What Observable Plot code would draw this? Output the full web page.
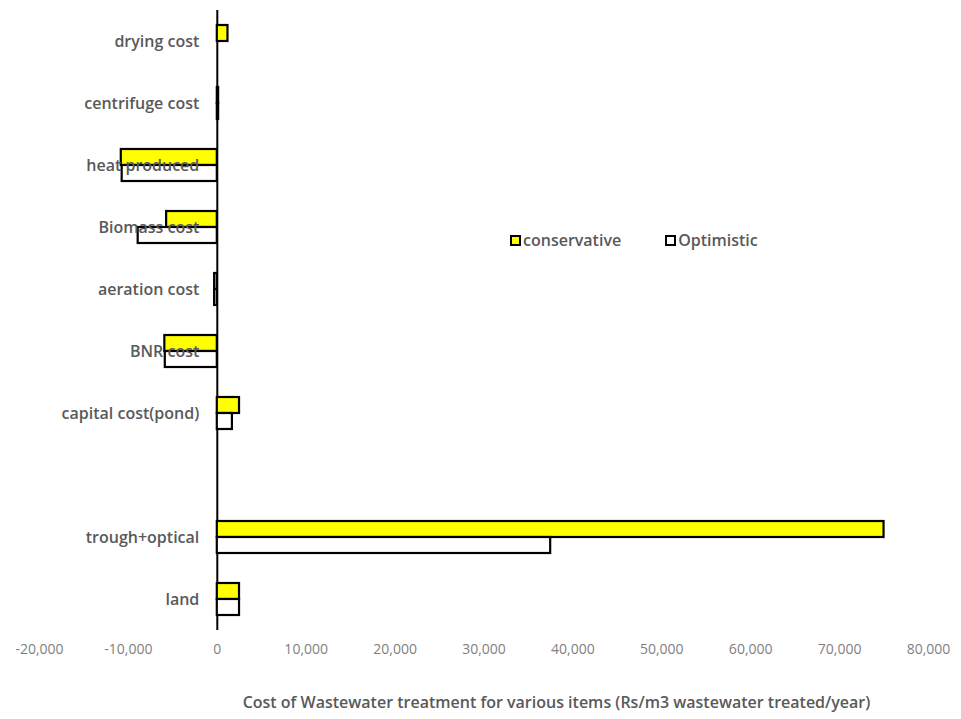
<!DOCTYPE html>
<html>
<head>
<meta charset="utf-8">
<script src="https://cdn.jsdelivr.net/npm/d3@7"></script>
<script src="https://cdn.jsdelivr.net/npm/@observablehq/plot@0.6"></script>
<style>
  body { margin: 0; background: #fff; }
  #wrap { position: relative; width: 961px; height: 719px; font-family: "Open Sans", sans-serif; }
  #legend { position: absolute; left: 510px; top: 229px; display: flex; gap: 44px; font-size: 16px; font-weight: 600; color: #595959; }
  #legend span.item { display: flex; align-items: center; gap: 2px; }
  #legend span.sw { display: inline-block; width: 7px; height: 7px; border: 2px solid #000; }
  #xlabel { position: absolute; left: 152px; right: 0; top: 691px; text-align: center; font-size: 16px; font-weight: 600; color: #595959; }
</style>
</head>
<body>
<div id="wrap">
  <div id="chart"></div>
  <div id="legend"></div>
  <div id="xlabel">Cost of Wastewater treatment for various items (Rs/m3 wastewater treated/year)</div>
</div>
<script>
// Cost items, top to bottom (the blank entry leaves an empty row)
const categories = ["drying cost", "centrifuge cost", "heat produced", "Biomass cost", "aeration cost", "BNR cost", "capital cost(pond)", "", "trough+optical", "land"];
const series = ["conservative", "Optimistic"];
const seriesColors = ["#ffff00", "#ffffff"];
// Rs/m3 wastewater treated/year
const conservative = [1200, 150, -10800, -5700, -300, -5900, 2500, null, 75000, 2500];
const optimistic = [0, 150, -10700, -8900, -300, -5850, 1700, null, 37500, 2500];
const xTicks = [-20000, -10000, 0, 10000, 20000, 30000, 40000, 50000, 60000, 70000, 80000];

const rows = categories.flatMap((c, i) => [
  {category: c, series: series[0], value: conservative[i]},
  {category: c, series: series[1], value: optimistic[i]}
]);

const fmt = v => (v < 0 ? "-" : "") + d3.format(",")(Math.abs(v));

const chart = Plot.plot({
  width: 961,
  height: 670,
  marginTop: 10,
  marginBottom: 40,
  marginLeft: 39,
  marginRight: 33,
  style: {fontFamily: "Open Sans, sans-serif", background: "#fff"},
  x: {domain: [-20000, 80000]},
  fy: {domain: categories, padding: 0, axis: null},
  y: {domain: series, paddingInner: 0, paddingOuter: 0.9375, axis: null},
  color: {domain: series, range: seriesColors},
  marks: [
    Plot.ruleX([0], {stroke: "#000", strokeWidth: 2}),
    Plot.barX(rows, {x: "value", y: "series", fy: "category", fill: "series", stroke: "#000", strokeWidth: 2.2}),
    Plot.axisX({ticks: xTicks, tickFormat: fmt, tickSize: 0, tickPadding: 14, label: null, fontSize: 14}),
    // category names sit just left of the zero line
    Plot.text(categories, {fy: d => d, x: 0, text: d => d, dx: -18, textAnchor: "end", fontSize: 16, fontWeight: 600, fill: "#595959"})
  ]
});

d3.select(chart).selectAll('g[aria-label^="x-axis"] text').attr("fill", "#7f7f7f");

document.getElementById("chart").appendChild(chart);

// Legend
const legend = d3.select("#legend");
series.forEach((s, i) => {
  const item = legend.append("span").attr("class", "item");
  item.append("span").attr("class", "sw").style("background", seriesColors[i]);
  item.append("span").text(s);
});
</script>
</body>
</html>
